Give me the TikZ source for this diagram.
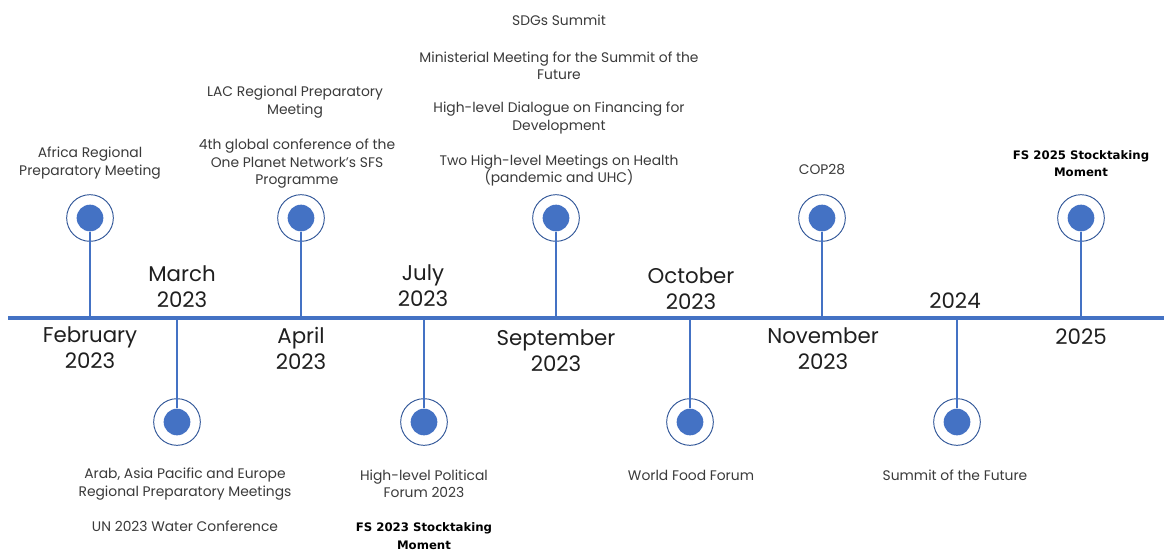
\documentclass[tikz,border=0pt]{standalone}
\usepackage{fontspec}
\setmainfont{Poppins}
\newfontfamily\heavyfont{DejaVu Sans}
\definecolor{lineblue}{HTML}{4472C4}
\definecolor{ringblue}{HTML}{2F5597}
\definecolor{txtgray}{HTML}{3A3A3A}
\begin{document}
\begin{tikzpicture}
        [x=0.75pt, y=-0.75pt,
        ring/.style={circle,draw=ringblue,line width=0.7pt,minimum size=35pt,inner sep=0pt},
        dot/.style={circle,fill=lineblue,minimum size=20pt,inner sep=0pt},
        stem/.style={draw=lineblue,line width=1.5pt},
        axis/.style={draw=lineblue,line width=2.3pt},
        month/.style={align=center,text=black!88,font=\fontsize{16}{19.5}\selectfont,inner sep=0pt},
        event/.style={align=center,text=txtgray,font=\fontsize{10.4}{13.1}\selectfont,inner sep=0pt},
        eventBold/.style={align=center,text=black,font=\heavyfont\bfseries\fontsize{8.8}{13.1}\selectfont,inner sep=0pt}]
        \useasboundingbox (0,0) rectangle (1164,551);
        \coordinate (L) at (8,318);
        \coordinate (R) at (1164,318);
        \draw[axis] (L) -- (R);

        % markers above the line
        \node[ring] (rfeb) at (90,218) {};  \node[dot] (dfeb) at (90,218) {};  \coordinate (tfeb) at (90,318);
        \node[ring] (rapr) at (301,218) {}; \node[dot] (dapr) at (301,218) {}; \coordinate (tapr) at (301,318);
        \node[ring] (rsep) at (556,218) {}; \node[dot] (dsep) at (556,218) {}; \coordinate (tsep) at (556,318);
        \node[ring] (rnov) at (822,218) {}; \node[dot] (dnov) at (822,218) {}; \coordinate (tnov) at (822,318);
        \node[ring] (rfin) at (1081,218) {}; \node[dot] (dfin) at (1081,218) {}; \coordinate (tfin) at (1081,318);
        % markers below the line
        \node[ring] (rmar) at (177,422) {}; \node[dot] (dmar) at (177,422) {}; \coordinate (tmar) at (177,318);
        \node[ring] (rjul) at (424,422) {}; \node[dot] (djul) at (424,422) {}; \coordinate (tjul) at (424,318);
        \node[ring] (roct) at (690,422) {}; \node[dot] (doct) at (690,422) {}; \coordinate (toct) at (690,318);
        \node[ring] (rnxt) at (957,422) {}; \node[dot] (dnxt) at (957,422) {}; \coordinate (tnxt) at (957,318);

        \draw[stem] (dfeb) -- (tfeb);
        \draw[stem] (dapr) -- (tapr);
        \draw[stem] (dsep) -- (tsep);
        \draw[stem] (dnov) -- (tnov);
        \draw[stem] (dfin) -- (tfin);
        \draw[stem] (dmar) -- (tmar);
        \draw[stem] (djul) -- (tjul);
        \draw[stem] (doct) -- (toct);
        \draw[stem] (dnxt) -- (tnxt);

        % dates
        \node[month] (mfeb) at (90,348) {February\\2023};
        \node[month] (mmar) at (182,287) {March\\2023};
        \node[month] (mapr) at (301,348) {April\\2023};
        \node[month] (mjul) at (423,286) {July\\2023};
        \node[month] (msep) at (556,351) {September\\2023};
        \node[month] (moct) at (691,289) {October\\2023};
        \node[month] (mnov) at (823,349) {November\\2023};
        \node[month] (mnxt) at (955,301) {2024};
        \node[month] (mfin) at (1081,337) {2025};

        % events
        \node[event] (africa) at (90,163) {Africa Regional\\Preparatory Meeting};
        \node[event] (lac) at (295,102) {LAC Regional Preparatory\\Meeting};
        \node[event] (opn) at (297,164) {4th global conference of the\\One Planet Network's SFS\\Programme};
        \node[event] (sdg) at (559,20) {SDGs Summit};
        \node[event] (mini) at (559,65.5) {Ministerial Meeting for the Summit of the\\Future};
        \node[event] (ffd) at (559,118) {High-level Dialogue on Financing for\\Development};
        \node[event] (health) at (559,170.5) {Two High-level Meetings on Health\\(pandemic and UHC)};
        \node[event] (cop) at (822,170) {COP28};
        \node[eventBold] (fs25) at (1081,163.5) {FS 2025 Stocktaking\\Moment};
        \node[event] (arab) at (185,484) {Arab, Asia Pacific and Europe\\Regional Preparatory Meetings};
        \node[event] (water) at (185,526) {UN 2023 Water Conference};
        \node[event] (hlpf) at (424,484) {High-level Political\\Forum 2023};
        \node[eventBold] (fs23) at (424,536) {FS 2023 Stocktaking\\Moment};
        \node[event] (wff) at (691,475) {World Food Forum};
        \node[event] (sotf) at (955,475) {Summit of the Future};
    \end{tikzpicture}
\end{document}
